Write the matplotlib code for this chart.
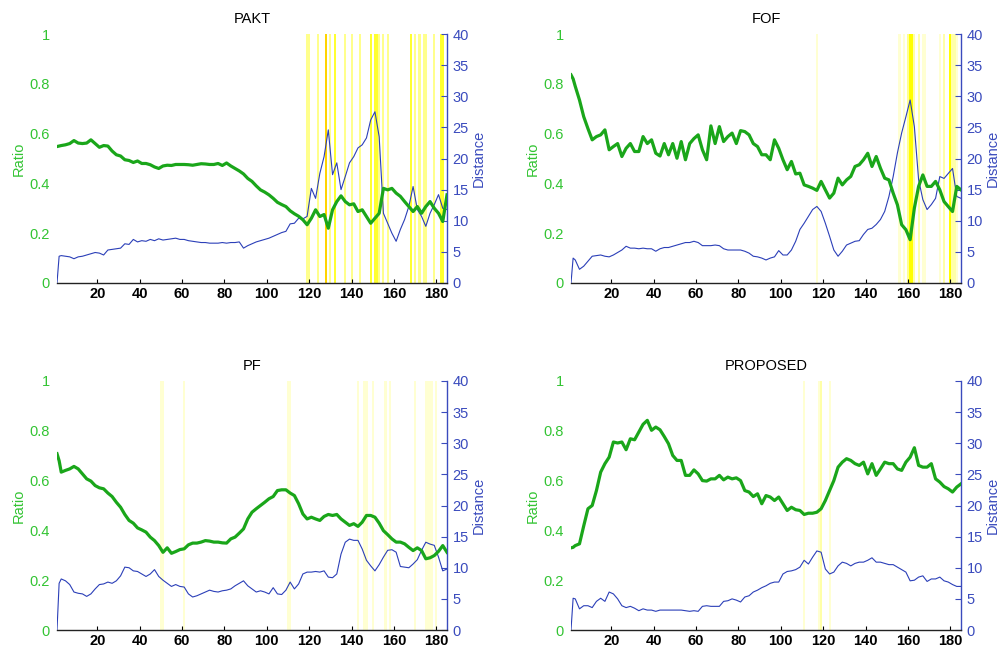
import numpy as np
import matplotlib
matplotlib.use("Agg")
import matplotlib.pyplot as plt

plt.rcParams['font.family'] = ['Liberation Sans', 'DejaVu Sans']

FRAMES = [1, 2] + list(range(3, 186, 2))
XTICKS = [20, 40, 60, 80, 100, 120, 140, 160, 180]
RATIO_TICKS = [0, 0.2, 0.4, 0.6, 0.8, 1]
RATIO_LABELS = ["0", "0.2", "0.4", "0.6", "0.8", "1"]
DIST_TICKS = [0, 5, 10, 15, 20, 25, 30, 35, 40]

TITLES = ["PAKT", "FOF", "PF", "PROPOSED"]

PAKT_RATIO = [0.548, 0.55, 0.552, 0.555, 0.56, 0.572, 0.562, 0.56, 0.562, 0.575, 0.56,
              0.545, 0.552, 0.55, 0.53, 0.515, 0.51, 0.495, 0.492, 0.484, 0.49,
              0.48, 0.48, 0.475, 0.466, 0.46, 0.47, 0.473, 0.472, 0.476, 0.476,
              0.476, 0.475, 0.473, 0.476, 0.479, 0.478, 0.476, 0.476, 0.48, 0.472,
              0.482, 0.47, 0.46, 0.45, 0.438, 0.42, 0.408, 0.39, 0.374, 0.365,
              0.354, 0.34, 0.324, 0.315, 0.307, 0.29, 0.278, 0.268, 0.254, 0.234,
              0.26, 0.294, 0.267, 0.275, 0.22, 0.294, 0.327, 0.35, 0.327, 0.314,
              0.318, 0.287, 0.294, 0.267, 0.24, 0.26, 0.28, 0.38, 0.374, 0.38,
              0.361, 0.348, 0.327, 0.307, 0.287, 0.307, 0.28, 0.307, 0.327, 0.30,
              0.28, 0.247, 0.354]
PAKT_DIST = [0, 4.3, 4.4, 4.3, 4.2, 3.9, 4.2, 4.3, 4.5, 4.7, 4.9,
             4.8, 4.5, 5.3, 5.4, 5.5, 5.6, 6.3, 6.2, 7.0, 6.6,
             6.8, 6.7, 7.0, 6.8, 7.1, 6.9, 7.0, 7.1, 7.2, 7.0,
             7.0, 6.8, 6.7, 6.6, 6.5, 6.5, 6.4, 6.4, 6.4, 6.5,
             6.4, 6.5, 6.5, 6.6, 5.6, 6.0, 6.3, 6.6, 6.8, 7.0,
             7.2, 7.5, 7.8, 8.1, 8.3, 9.5, 9.6, 10.4, 10.3, 10.7,
             15.2, 13.6, 17.6, 20.3, 24.6, 17.4, 19.3, 15.0, 17.1, 19.3,
             20.3, 21.7, 22.2, 23.3, 26.2, 27.5, 23.5, 11.2, 9.6, 8.0,
             6.7, 8.6, 10.2, 12.3, 15.5, 11.8, 10.7, 9.1, 11.2, 12.6,
             14.2, 12.0, 11.8]

FOF_RATIO = [0.836, 0.82, 0.79, 0.735, 0.668, 0.62, 0.575, 0.588, 0.595, 0.615, 0.535,
             0.548, 0.56, 0.508, 0.541, 0.56, 0.528, 0.528, 0.588, 0.56, 0.575,
             0.521, 0.51, 0.56, 0.515, 0.56, 0.501, 0.568, 0.495, 0.56, 0.58,
             0.595, 0.535, 0.495, 0.631, 0.56, 0.628, 0.568, 0.588, 0.602, 0.56,
             0.612, 0.608, 0.595, 0.56, 0.548, 0.515, 0.515, 0.495, 0.575, 0.541,
             0.495, 0.455, 0.488, 0.438, 0.441, 0.394, 0.388, 0.381, 0.372, 0.408,
             0.374, 0.341, 0.361, 0.421, 0.394, 0.414, 0.428, 0.468, 0.475, 0.495,
             0.521, 0.468, 0.508, 0.461, 0.421, 0.414, 0.361, 0.314, 0.234, 0.214,
             0.174, 0.301, 0.388, 0.434, 0.388, 0.388, 0.408, 0.374, 0.327, 0.307,
             0.287, 0.388, 0.374]
FOF_DIST = [0, 4.0, 3.7, 2.2, 2.7, 3.5, 4.3, 4.4, 4.5, 4.3, 4.2,
            4.5, 4.9, 5.3, 5.9, 5.6, 5.6, 5.5, 5.6, 5.5, 5.5,
            5.1, 5.5, 5.7, 5.7, 5.9, 6.1, 6.3, 6.5, 6.5, 6.7,
            6.5, 6.0, 6.0, 6.0, 6.1, 6.0, 5.5, 5.3, 5.3, 5.3,
            5.3, 5.1, 4.8, 4.3, 4.2, 4.0, 3.7, 4.0, 4.2, 5.2,
            4.5, 4.5, 5.3, 6.7, 8.6, 9.6, 10.7, 11.8, 12.3, 11.5,
            9.6, 7.5, 5.3, 4.3, 5.1, 6.1, 6.4, 6.7, 6.8, 7.8,
            8.6, 8.8, 9.4, 10.2, 11.5, 13.9, 17.1, 20.9, 24.1, 26.7,
            29.4, 25.1, 16.6, 13.4, 11.8, 12.6, 13.6, 17.1, 16.8, 17.6,
            18.4, 13.9, 13.6]

PF_RATIO = [0.708, 0.68, 0.634, 0.641, 0.647, 0.657, 0.647, 0.627, 0.607, 0.598, 0.58,
            0.571, 0.567, 0.55, 0.536, 0.513, 0.493, 0.464, 0.44, 0.429, 0.41,
            0.402, 0.393, 0.373, 0.359, 0.339, 0.312, 0.33, 0.308, 0.315, 0.323,
            0.326, 0.342, 0.349, 0.349, 0.353, 0.359, 0.357, 0.353, 0.353, 0.35,
            0.349, 0.366, 0.373, 0.389, 0.406, 0.446, 0.473, 0.487, 0.5, 0.513,
            0.527, 0.536, 0.56, 0.563, 0.563, 0.55, 0.54, 0.507, 0.466, 0.446,
            0.453, 0.446, 0.44, 0.456, 0.464, 0.46, 0.464, 0.446, 0.433, 0.42,
            0.427, 0.416, 0.433, 0.46, 0.46, 0.453, 0.429, 0.399, 0.383, 0.366,
            0.353, 0.353, 0.346, 0.332, 0.319, 0.33, 0.319, 0.286, 0.29, 0.299,
            0.316, 0.339, 0.312]
PF_DIST = [0, 7.5, 8.2, 7.9, 7.3, 6.1, 5.9, 5.8, 5.4, 5.8, 6.6,
           7.3, 7.4, 7.7, 7.5, 7.9, 8.7, 10.1, 10.0, 9.5, 9.4,
           9.0, 8.6, 9.0, 9.7, 8.6, 8.0, 7.5, 7.0, 7.3, 7.0,
           6.9, 5.8, 5.3, 5.5, 5.8, 6.1, 6.4, 6.2, 6.1, 6.3,
           6.4, 6.6, 7.1, 7.5, 7.9, 7.1, 6.6, 6.1, 6.3, 6.1,
           5.8, 6.8, 5.8, 5.7, 6.4, 7.7, 6.6, 7.4, 9.0, 9.3,
           9.3, 9.4, 9.3, 9.5, 8.5, 8.4, 9.0, 12.2, 14.1, 14.6,
           14.4, 14.4, 13.0, 11.2, 10.3, 9.5, 10.5, 11.7, 12.8, 12.9,
           12.5, 10.2, 10.1, 10.0, 10.6, 11.3, 12.8, 14.1, 13.8, 13.6,
           11.7, 9.5, 9.8]

PROP_RATIO = [0.33, 0.332, 0.339, 0.346, 0.418, 0.487, 0.5, 0.56, 0.634, 0.668, 0.694,
              0.755, 0.751, 0.755, 0.724, 0.768, 0.764, 0.795, 0.826, 0.842, 0.802,
              0.815, 0.804, 0.777, 0.748, 0.701, 0.681, 0.681, 0.621, 0.621, 0.643,
              0.627, 0.6, 0.598, 0.607, 0.607, 0.621, 0.603, 0.614, 0.607, 0.611,
              0.6, 0.56, 0.554, 0.536, 0.547, 0.507, 0.54, 0.534, 0.52, 0.534,
              0.507, 0.48, 0.493, 0.483, 0.48, 0.464, 0.469, 0.469, 0.473, 0.487,
              0.52, 0.56, 0.6, 0.654, 0.674, 0.688, 0.681, 0.668, 0.661, 0.674,
              0.627, 0.668, 0.621, 0.647, 0.674, 0.668, 0.668, 0.647, 0.641, 0.674,
              0.694, 0.732, 0.661, 0.654, 0.654, 0.668, 0.607, 0.594, 0.576, 0.567,
              0.554, 0.574, 0.587]
PROP_DIST = [0, 5.1, 5.0, 3.4, 3.9, 3.9, 3.6, 4.6, 5.1, 4.6, 6.1,
             5.8, 5.0, 3.9, 3.6, 3.8, 3.5, 3.1, 3.4, 3.2, 3.2,
             3.0, 3.2, 3.2, 3.2, 3.2, 3.2, 3.2, 3.1, 3.0, 3.1,
             3.0, 3.8, 3.9, 3.8, 3.8, 3.8, 4.6, 4.7, 5.0, 4.8,
             4.5, 5.3, 5.5, 6.1, 6.4, 6.8, 7.1, 7.5, 7.7, 7.7,
             9.0, 9.4, 9.5, 9.7, 10.1, 11.2, 10.6, 11.7, 12.7, 12.5,
             9.8, 9.0, 9.3, 10.3, 10.9, 10.7, 10.3, 10.7, 10.9, 10.9,
             11.2, 11.6, 10.9, 10.9, 10.7, 10.5, 10.5, 10.1, 9.7, 9.3,
             7.9, 8.0, 8.5, 8.7, 7.8, 8.2, 8.2, 8.5, 7.9, 7.7,
             7.3, 7.0, 7.0]

# highlighted frames (frame, intensity level)
PAKT_HL_FRAMES = [119, 120, 124, 128, 130, 132, 137, 140, 144, 149, 151, 152, 153,
                  155, 157, 168, 170, 172, 174, 175, 179, 182, 183]
PAKT_HL_LEVELS = [3, 3, 3, 6, 3, 4, 3, 3, 3, 4, 4, 4, 3,
                  3, 3, 4, 3, 3, 3, 3, 3, 4, 4]
FOF_HL_FRAMES = [117, 156, 158, 160, 161, 162, 163, 165, 167, 168, 175, 177, 180, 181, 182, 183]
FOF_HL_LEVELS = [1, 1, 1, 3, 5, 5, 2, 2, 1, 1, 1, 2, 5, 2, 2, 1]
PF_HL_FRAMES = [50, 51, 61, 110, 111, 143, 146, 147, 150, 156, 158, 170, 175, 176, 177, 178, 180]
PF_HL_LEVELS = [1, 1, 1, 1, 1, 1, 1, 1, 1, 1, 1, 1, 1, 1, 1, 1, 1]
PROP_HL_FRAMES = [111, 118, 119, 123]
PROP_HL_LEVELS = [1, 1, 2, 1]

HL_COLORS = {1: '#ffffd2', 2: '#ffffa8', 3: '#ffff8c', 4: '#ffff30', 5: '#ffff00', 6: '#ffd400'}

GREEN_LINE = '#1aa61a'
GREEN_TEXT = '#33c433'
BLUE_LINE = '#2b3fb8'
BLUE_TEXT = '#3a4bbd'

PANELS = [
    (PAKT_RATIO, PAKT_DIST, PAKT_HL_FRAMES, PAKT_HL_LEVELS),
    (FOF_RATIO, FOF_DIST, FOF_HL_FRAMES, FOF_HL_LEVELS),
    (PF_RATIO, PF_DIST, PF_HL_FRAMES, PF_HL_LEVELS),
    (PROP_RATIO, PROP_DIST, PROP_HL_FRAMES, PROP_HL_LEVELS),
]

for ratio, dist, _, _ in PANELS:
    assert len(ratio) == len(FRAMES) and len(dist) == len(FRAMES)

fig = plt.figure(figsize=(10.02, 6.5), dpi=100)
W, H = 1002, 650
positions = [(57, 34), (571, 34), (57, 381), (571, 381)]
aw, ah = 390, 249

for (ratio, dist, hlf, hll), (px, py), title in zip(PANELS, positions, TITLES):
    ax2 = fig.add_axes([px / W, 1 - (py + ah) / H, aw / W, ah / H])
    ax = ax2.twinx()
    ax2.yaxis.tick_right()
    ax2.yaxis.set_label_position('right')
    ax.yaxis.tick_left()
    ax.yaxis.set_label_position('left')
    ax.patch.set_visible(False)

    for f, lv in zip(hlf, hll):
        ax2.axvspan(f - 0.5, f + 0.5, color=HL_COLORS[lv], lw=0, zorder=0)

    ax2.plot(FRAMES, dist, color=BLUE_LINE, lw=0.8, zorder=2)
    ax.plot(FRAMES, ratio, color=GREEN_LINE, lw=2.3, zorder=3)

    ax.set_xlim(1, 185)
    ax2.set_xlim(1, 185)
    ax.set_ylim(0, 1)
    ax2.set_ylim(0, 40)

    ax.set_yticks(RATIO_TICKS)
    ax.set_yticklabels(RATIO_LABELS)
    ax2.set_yticks(DIST_TICKS)
    ax2.set_xticks(XTICKS)
    ax2.set_xticklabels([str(t) for t in XTICKS], fontweight='bold')

    ax.tick_params(axis='y', colors=GREEN_TEXT, length=0, labelsize=10.5, pad=5)
    ax2.tick_params(axis='y', colors=BLUE_TEXT, direction='in', length=4, width=0.8,
                    labelsize=10.5, pad=4)
    ax2.tick_params(axis='x', colors='black', direction='in', length=3, width=0.8,
                    labelsize=10.5, pad=3)
    ax.tick_params(axis='x', bottom=False, labelbottom=False)

    for a in (ax, ax2):
        for s in a.spines.values():
            s.set_visible(False)
    ax2.spines['bottom'].set_visible(True)
    ax2.spines['bottom'].set_color('#222222')
    ax2.spines['bottom'].set_linewidth(1.0)
    ax2.spines['right'].set_visible(True)
    ax2.spines['right'].set_color(BLUE_TEXT)
    ax2.spines['right'].set_linewidth(1.0)

    ax.set_ylabel('Ratio', color=GREEN_TEXT, fontsize=10.5, labelpad=3)
    ax2.set_ylabel('Distance', color=BLUE_TEXT, fontsize=10.5, labelpad=2)
    ax2.set_title(title, fontsize=10.5, color='black', pad=8)

fig.savefig('out.png', dpi=100)
